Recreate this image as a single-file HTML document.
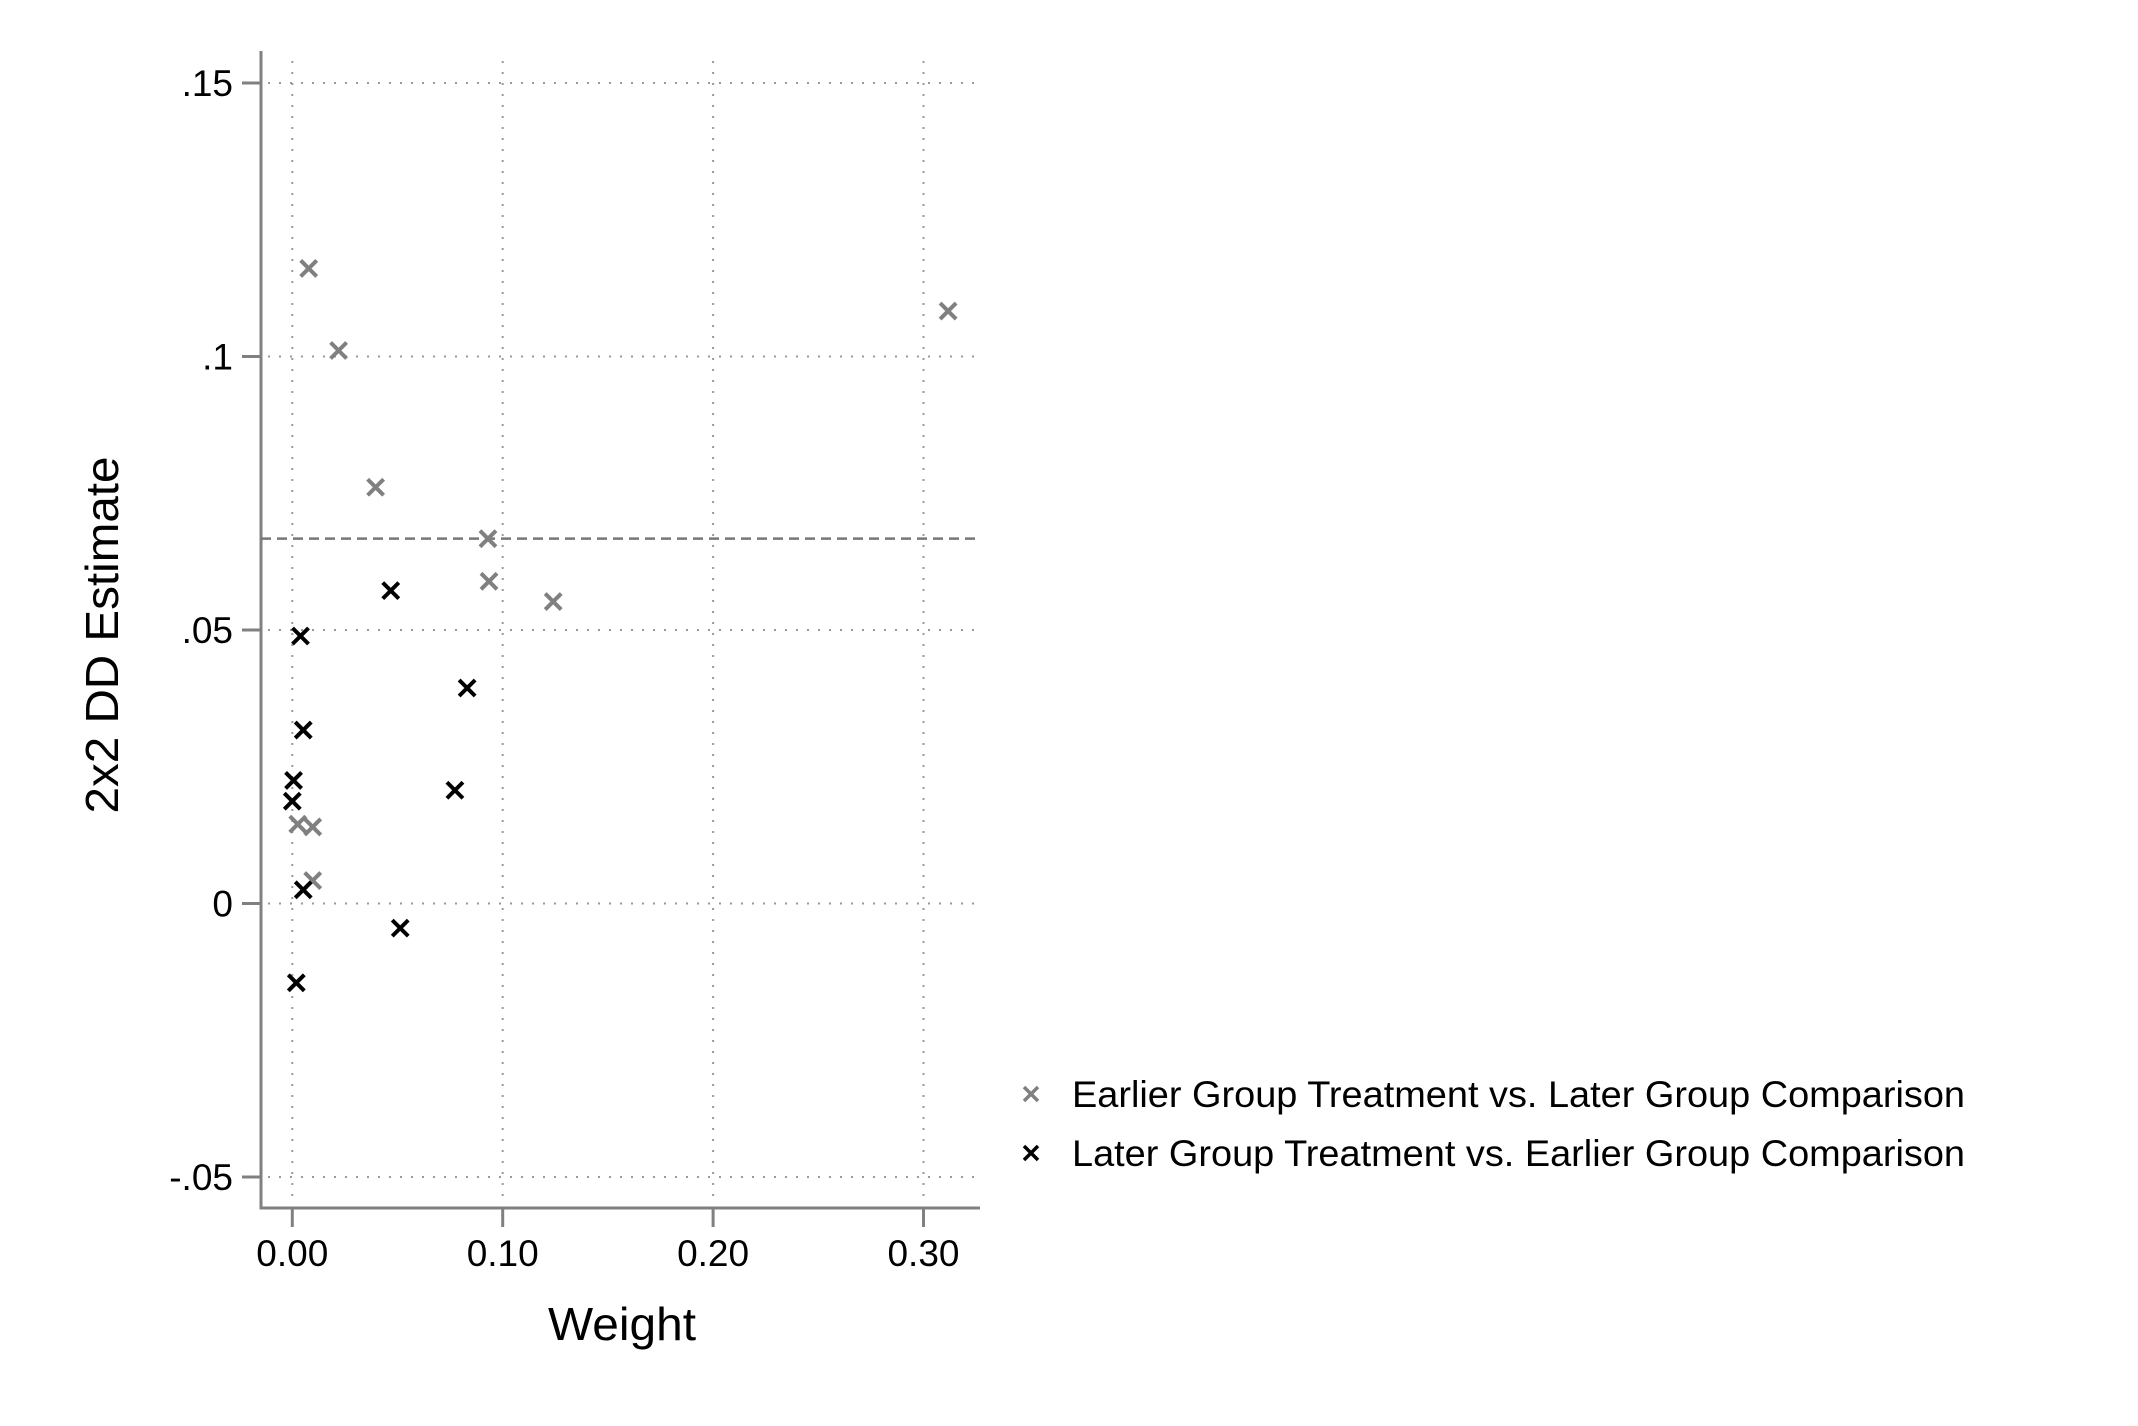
<!DOCTYPE html>
<html><head><meta charset="utf-8"><style>html,body{margin:0;padding:0;background:#fff}svg{display:block}</style></head>
<body>
<svg id="chart" width="2138" height="1426" viewBox="0 0 2138 1426" xmlns="http://www.w3.org/2000/svg" font-family="'Liberation Sans', sans-serif">
<rect width="2138" height="1426" fill="#fff"/>
<g id="grid"></g>
<g id="axes"></g>
<g id="marks"></g>
<text x="622" y="1340" font-size="46" text-anchor="middle" textLength="148" lengthAdjust="spacingAndGlyphs">Weight</text>
<text transform="translate(118,635) rotate(-90)" font-size="46" text-anchor="middle" textLength="357" lengthAdjust="spacingAndGlyphs">2x2 DD Estimate</text>
<g>
  <g>
    <path d="M1024 1087 L1038 1101 M1038 1087 L1024 1101" stroke="#808080" stroke-width="3.5"/>
    <text x="1072" y="1107" font-size="37" textLength="893" lengthAdjust="spacingAndGlyphs">Earlier Group Treatment vs. Later Group Comparison</text>
  </g>
  <g>
    <path d="M1024 1146 L1038 1160 M1038 1146 L1024 1160" stroke="#000" stroke-width="3.5"/>
    <text x="1072" y="1166" font-size="37" textLength="893" lengthAdjust="spacingAndGlyphs">Later Group Treatment vs. Earlier Group Comparison</text>
  </g>
</g>
<script>
const xTicks = [0, 0.1, 0.2, 0.3];
const xTickLabels = ["0.00", "0.10", "0.20", "0.30"];
const yTicks = [-0.05, 0, 0.05, 0.1, 0.15];
const yTickLabels = ["-.05", "0", ".05", ".1", ".15"];
const earlierW = [0.0078, 0.022, 0.0396, 0.093, 0.0935, 0.124, 0.3117, 0.0026, 0.0097, 0.0097];
const earlierEst = [0.1161, 0.1011, 0.0761, 0.0667, 0.0589, 0.0552, 0.1083, 0.0145, 0.014, 0.0042];
const laterW = [0.0468, 0.0039, 0.0052, 0.0006, 0.0, 0.0831, 0.0773, 0.0052, 0.0513, 0.0019];
const laterEst = [0.0572, 0.0489, 0.0317, 0.0225, 0.0187, 0.0394, 0.0207, 0.0025, -0.0045, -0.0145];
const overallDD = [0.0667];

const NS = "http://www.w3.org/2000/svg";
function xs(v){ return 292.3 + v * 2104; }
function ys(v){ return 903.5 - v * 5470; }
function mk(tag, attrs, parent){ const e = document.createElementNS(NS, tag); for (const k in attrs) e.setAttribute(k, attrs[k]); parent.appendChild(e); return e; }
const grid = document.getElementById('grid'), axes = document.getElementById('axes'), marks = document.getElementById('marks');
const L = 268, R = 980, T = 51, B = 1208, AX = 261;

xTicks.forEach((t, i) => {
  const g = mk('line', {x1: xs(t), x2: xs(t), y1: T + 10, y2: B - 4, stroke: '#999', 'stroke-width': 2, 'stroke-dasharray': '2 9'}, grid);
  
  
  const tk = mk('line', {x1: xs(t), x2: xs(t), y1: B, y2: B + 19, stroke: '#808080', 'stroke-width': 3}, axes);
  
  
  const lb = mk('text', {x: xs(t), y: 1266, 'font-size': 37, 'text-anchor': 'middle'}, axes);
  lb.textContent = xTickLabels[i];
  
  
});
yTicks.forEach((t, i) => {
  const g = mk('line', {x1: L, x2: R, y1: ys(t), y2: ys(t), stroke: '#999', 'stroke-width': 2, 'stroke-dasharray': '2 9'}, grid);
  
  
  const tk = mk('line', {x1: AX - 19, x2: AX, y1: ys(t), y2: ys(t), stroke: '#808080', 'stroke-width': 3}, axes);
  
  
  const lb = mk('text', {x: 233, y: ys(t) + 13, 'font-size': 37, 'text-anchor': 'end'}, axes);
  lb.textContent = yTickLabels[i];
  
  
});
const ya = mk('line', {x1: AX, x2: AX, y1: T, y2: B + 1.5, stroke: '#808080', 'stroke-width': 3}, axes);


const xa = mk('line', {x1: AX - 1.5, x2: R, y1: B, y2: B, stroke: '#808080', 'stroke-width': 3}, axes);


const ref = mk('line', {x1: AX, x2: R, y1: ys(overallDD[0]), y2: ys(overallDD[0]), stroke: '#777', 'stroke-width': 2.5, 'stroke-dasharray': '10 6'}, marks);


function cross(x, y, color, name){
  const p = mk('path', {d: `M${x-8} ${y-8} L${x+8} ${y+8} M${x+8} ${y-8} L${x-8} ${y+8}`, stroke: color, 'stroke-width': 4}, marks);
  
  
}
earlierW.forEach((w, i) => cross(xs(w), ys(earlierEst[i]), '#808080', 'earlier-point'));
laterW.forEach((w, i) => cross(xs(w), ys(laterEst[i]), '#000', 'later-point'));
</script>
</svg>
</body></html>
